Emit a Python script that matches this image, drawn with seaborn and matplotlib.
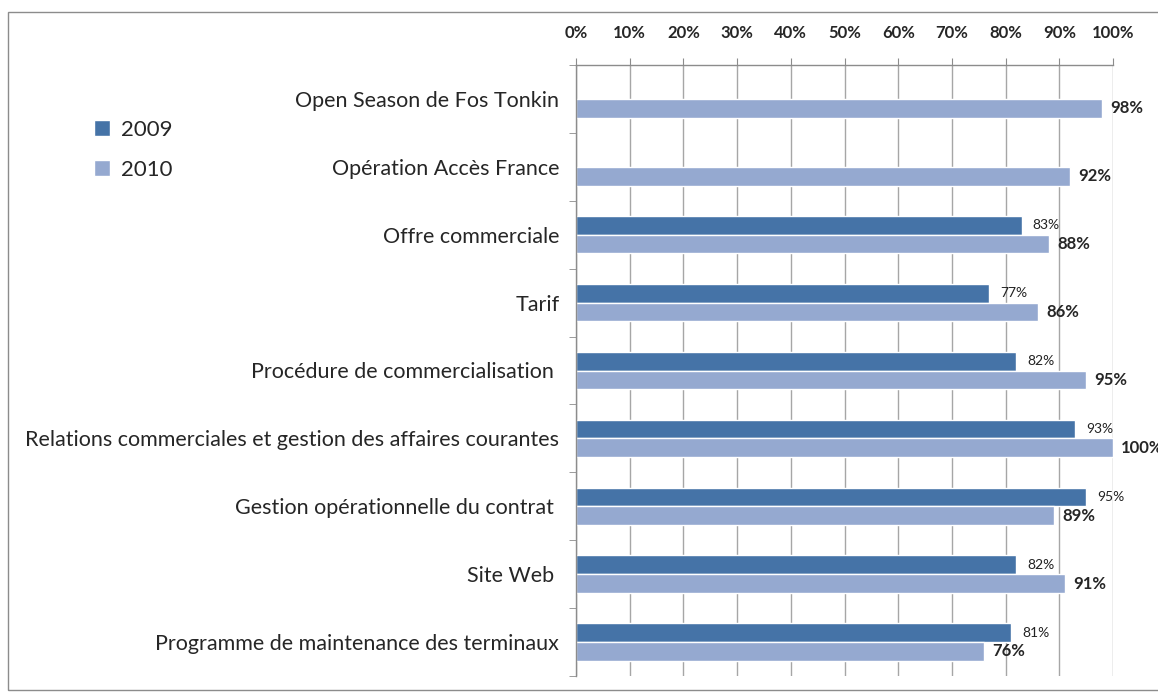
import numpy as np
import pandas as pd
import matplotlib
matplotlib.use("Agg")
import matplotlib.pyplot as plt
import seaborn as sns
from matplotlib.patches import Rectangle

categories = ["Open Season de Fos Tonkin", "Opération Accès France", "Offre commerciale",
              "Tarif", "Procédure de commercialisation ", "Relations commerciales et gestion des affaires courantes",
              "Gestion opérationnelle du contrat ", "Site Web ", "Programme de maintenance des terminaux"]
vals_2009 = [np.nan, np.nan, 83, 77, 82, 93, 95, 82, 81]
vals_2010 = [98, 92, 88, 86, 95, 100, 89, 91, 76]
years = ["2009", "2010"]
colors = ["#4573A7", "#95A9D0"]

df = pd.DataFrame({
    "cat": categories * 2,
    "val": vals_2009 + vals_2010,
    "year": [years[0]] * len(categories) + [years[1]] * len(categories),
})

sns.set_style("white")
plt.rcParams["font.family"] = ["Lato", "DejaVu Sans"]

fig = plt.figure(figsize=(11.58, 7), dpi=100)
ax = fig.add_axes([576 / 1158, 1 - 676 / 700, 537 / 1158, 611 / 700])

sns.barplot(data=df, y="cat", x="val", hue="year", orient="h", palette=colors,
            width=0.55, saturation=1, ax=ax, legend=True)

# étiquettes de valeurs
ax.bar_label(ax.containers[0], labels=[f"{v:.0f}%" for v in ax.containers[0].datavalues],
             padding=8, fontsize=10, color="#222222")
ax.bar_label(ax.containers[1], labels=[f"{v:.0f}%" for v in ax.containers[1].datavalues],
             padding=6, fontsize=12, fontweight="bold", clip_on=False)

ax.set_xlim(0, 100)
ax.set_xticks(np.arange(0, 101, 10))
ax.set_xticklabels([f"{t}%" for t in range(0, 101, 10)], fontsize=12, fontweight="bold")
ax.xaxis.tick_top()
ax.tick_params(axis="x", which="major", length=5, color="#8C8C8C", pad=12, top=True, bottom=False)
ax.grid(axis="x", color="#A6A6A6", linewidth=1)
ax.set_axisbelow(True)

ax.set_ylim(len(categories) - 0.5, -0.5)
ax.set_yticks(np.arange(len(categories)))
ax.set_yticklabels(categories, fontsize=15.5)
ax.tick_params(axis="y", which="major", length=0, pad=12)
ax.set_yticks(np.arange(-0.5, len(categories)), minor=True)
ax.tick_params(axis="y", which="minor", length=5, color="#8C8C8C", left=True)

ax.set_xlabel("")
ax.set_ylabel("")
for s in ["right", "bottom"]:
    ax.spines[s].set_visible(False)
for s in ["left", "top"]:
    ax.spines[s].set_color("#8C8C8C")
    ax.spines[s].set_linewidth(1)

ax.legend(loc="upper left", bbox_to_anchor=(74 / 1158, 1 - 100 / 700), bbox_transform=fig.transFigure,
          frameon=False, fontsize=16, handlelength=0.7, handleheight=0.7, handletextpad=0.5,
          labelspacing=0.9)

fig.patches.append(Rectangle((8 / 1158, 10 / 700), 1.05, 1 - 22 / 700, transform=fig.transFigure,
                             fill=False, edgecolor="#8C8C8C", linewidth=1))

fig.savefig("out.png", dpi=100)
